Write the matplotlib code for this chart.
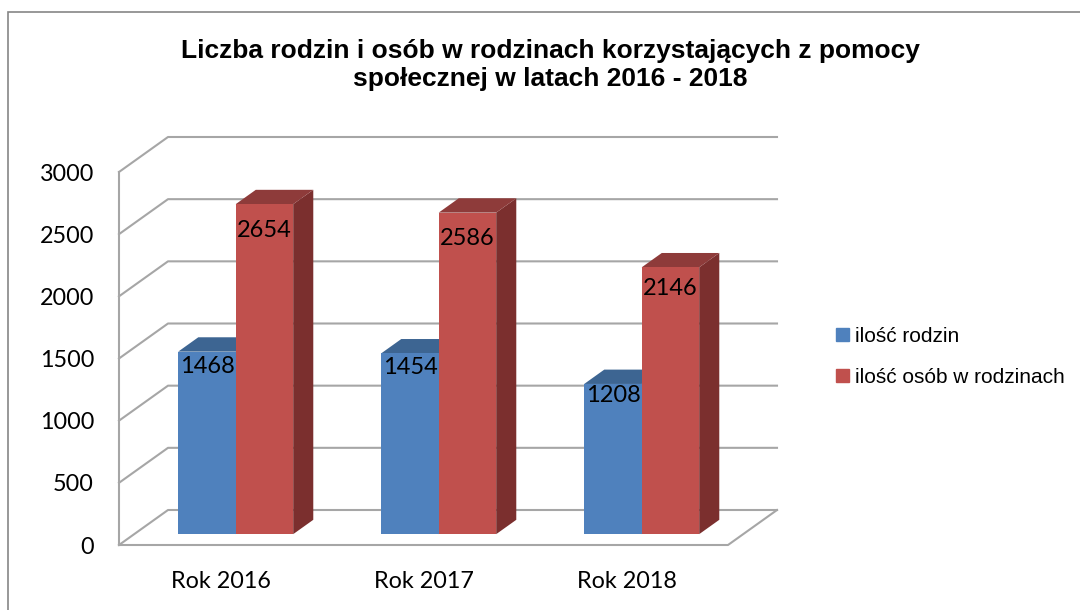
import numpy as np
import matplotlib.pyplot as plt
from matplotlib.patches import Polygon, Rectangle, Patch

# dane
lata = ["Rok 2016", "Rok 2017", "Rok 2018"]
rodziny = [1468, 1454, 1208]
osoby = [2654, 2586, 2146]
serie = ["ilość rodzin", "ilość osób w rodzinach"]

front = ["#4F81BD", "#C0504D"]
top = ["#3D6592", "#8E3B3A"]
side = ["#3A5F8C", "#7B2F2E"]
grid_c = "#A6A6A6"

W, H = 1080, 610
fig = plt.figure(figsize=(W / 100, H / 100), dpi=100)

# front plane of the 3d box, in pixels
x0, x1, y0, y1 = 119, 728, 545, 172
ax = fig.add_axes([x0 / W, (H - y0) / H, (x1 - x0) / W, (y0 - y1) / H])
ymax = 3000
ax.set_xlim(0, 3)
ax.set_ylim(0, ymax)
for s in ax.spines.values():
    s.set_visible(False)

# depth of the box (49 px right, 35 px up) in data units
px_x = (x1 - x0) / 3
px_y = (y0 - y1) / ymax
Dx, Dy = 49 / px_x, 35 / px_y
f0, f1 = 0.31, 0.72  # bar front / back as fraction of the depth

# walls and grid
lw = 1.5
ticks = np.arange(0, ymax + 1, 500)
for t in ticks:
    ax.plot([0, Dx, 3 + Dx], [t, t + Dy, t + Dy], color=grid_c, lw=lw, clip_on=False, zorder=1)
ax.plot([0, 0], [0, ymax], color=grid_c, lw=lw, clip_on=False, zorder=1)
ax.plot([0, 3, 3 + Dx], [0, 0, Dy], color=grid_c, lw=lw, clip_on=False, zorder=1)

# bars
w = 57.5 / px_x
ddx, ddy = (f1 - f0) * Dx, (f1 - f0) * Dy
base = f0 * Dy
pos = np.arange(3) + 0.5 + f0 * Dx
z = 2
for i in range(3):
    for k, vals in enumerate([rodziny, osoby]):
        v = vals[i]
        xl = pos[i] - w + k * w
        xr = xl + w
        yt = base + v
        ax.add_patch(Polygon([(xr, base), (xr, yt), (xr + ddx, yt + ddy), (xr + ddx, base + ddy)],
                             closed=True, fc=side[k], ec="none", zorder=z, clip_on=False))
        ax.add_patch(Polygon([(xl, yt), (xr, yt), (xr + ddx, yt + ddy), (xl + ddx, yt + ddy)],
                             closed=True, fc=top[k], ec="none", zorder=z, clip_on=False))
        ax.bar(xl, v, width=w, bottom=base, align="edge", color=front[k], zorder=z + 0.5,
               clip_on=False, label=serie[k] if i == 0 else None)
        ax.text(xl + w / 2, base + 0.92 * v, str(v), ha="center", va="center",
                fontsize=17, family="Lato", color="black", zorder=z + 1)
        z += 1

ax.set_yticks(ticks)
ax.set_yticklabels([str(t) for t in ticks], family="Lato", fontsize=16.8)
ax.set_xticks(np.arange(3) + 0.5)
ax.set_xticklabels(lata, family="Lato", fontsize=16.8)
ax.tick_params(axis="y", length=0, pad=18)
ax.tick_params(axis="x", length=0, pad=19)

fig.text(550 / W, 1 - 65 / H, "Liczba rodzin i osób w rodzinach korzystających z pomocy\nspołecznej w latach 2016 - 2018",
         ha="center", va="center", fontsize=19, fontweight="bold", family="Liberation Sans",
         linespacing=1.2)

handles = [Patch(color=front[0]), Patch(color=front[1])]
fig.legend(handles, serie, loc="center left", bbox_to_anchor=(836 / W, 1 - 357 / H),
           frameon=False, prop={"family": "Liberation Sans", "size": 15},
           borderpad=0, borderaxespad=0,
           handlelength=0.6, handleheight=0.6, handletextpad=0.3, labelspacing=1.05)

# outer frame
fig.add_artist(Rectangle((8 / W, -0.1), 1.2, (H - 12) / H + 0.1, transform=fig.transFigure,
                         fill=False, ec="#868686", lw=1.2))

fig.savefig("out.png", dpi=100)
